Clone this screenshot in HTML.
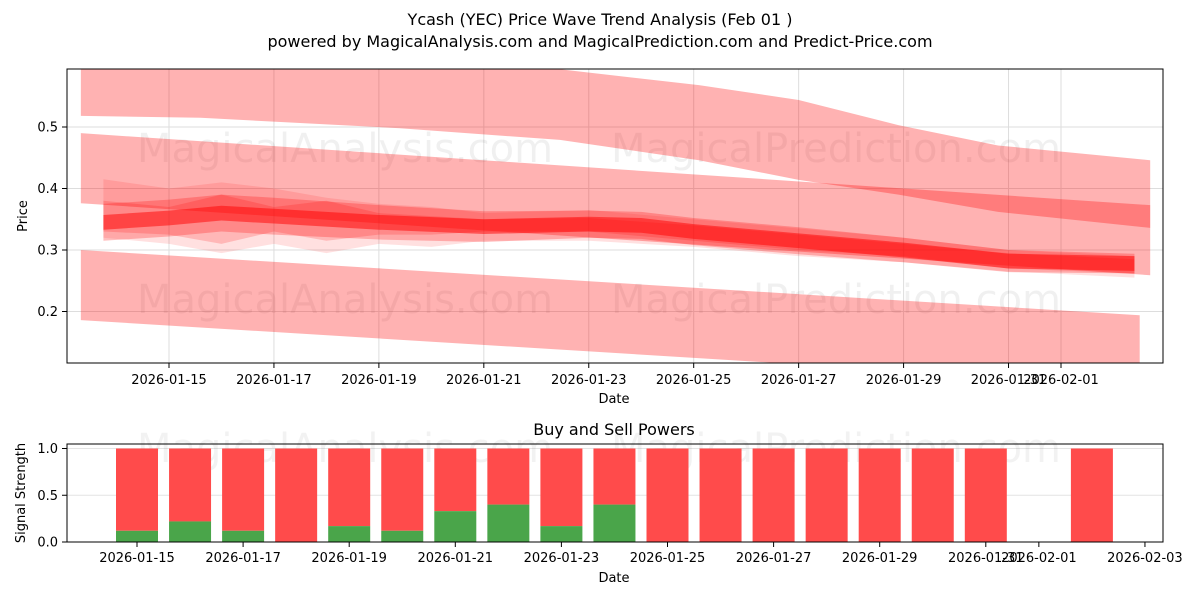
<!DOCTYPE html>
<html><head><meta charset="utf-8"><style>
body{margin:0;background:#fff;}
svg{display:block;font-family:"DejaVu Sans","Liberation Sans",sans-serif;}
</style></head><body>
<svg id="c" width="1200" height="600" xmlns="http://www.w3.org/2000/svg">
<defs>
<clipPath id="clipTop"><rect x="67" y="69" width="1096" height="294"/></clipPath>
</defs>
<text x="600" y="25" text-anchor="middle" font-size="16">Ycash (YEC) Price Wave Trend Analysis (Feb 01 )</text>
<text x="600" y="47" text-anchor="middle" font-size="16">powered by MagicalAnalysis.com and MagicalPrediction.com and Predict-Price.com</text>
<g id="topPanel"></g>
<g id="botPanel"></g>
</svg>
<script>
// ---- data ----
const topTickDays = [0,2,4,6,8,10,12,14,16,17];
const topTickLabels = ["2026-01-15","2026-01-17","2026-01-19","2026-01-21","2026-01-23","2026-01-25","2026-01-27","2026-01-29","2026-01-31","2026-02-01"];
const priceTicks = [0.2,0.3,0.4,0.5];
const bandADays = [-1.68,0.6,4.4,7.45,10.1,12,13.9,15.8,18.7];
const bandALow = [0.518,0.515,0.498,0.479,0.446,0.414,0.39,0.362,0.336];
const bandAHigh = [0.66,0.645,0.62,0.594,0.568,0.544,0.503,0.47,0.446];
const bandBDays = [-1.68,18.7];
const bandBLow = [0.376,0.259];
const bandBHigh = [0.49,0.373];
const bandCDays = [-1.68,18.5];
const bandCLow = [0.186,0.08];
const bandCHigh = [0.30,0.194];
const clusterDays = [-1.25,0,1,2,4,6,8,9,10,12,14,16,18.4];
const clusterMid = [0.345,0.352,0.36,0.355,0.345,0.338,0.342,0.340,0.330,0.315,0.300,0.282,0.278];
const clusterHalf1 = [0.012,0.012,0.012,0.012,0.012,0.012,0.012,0.012,0.012,0.012,0.012,0.012,0.012];
const clusterHalf2 = [0.03,0.03,0.03,0.03,0.028,0.025,0.022,0.022,0.022,0.022,0.02,0.018,0.016];
const wigDays = [-1.25,0,1,2,3,4,5,6,8,10,12,14,16,18.4];
const wigHigh = [0.415,0.40,0.41,0.40,0.385,0.375,0.37,0.36,0.365,0.35,0.335,0.32,0.30,0.29];
const wigLow = [0.32,0.31,0.295,0.31,0.295,0.31,0.305,0.315,0.315,0.305,0.29,0.28,0.265,0.255];
const wig2High = [0.38,0.37,0.39,0.37,0.38,0.36,0.355,0.35,0.352,0.34,0.325,0.31,0.295,0.285];
const wig2Low = [0.33,0.325,0.31,0.33,0.315,0.325,0.325,0.33,0.33,0.315,0.30,0.29,0.27,0.262];
const botTickDays = [0,2,4,6,8,10,12,14,16,17,19];
const botTickLabels = ["2026-01-15","2026-01-17","2026-01-19","2026-01-21","2026-01-23","2026-01-25","2026-01-27","2026-01-29","2026-01-31","2026-02-01","2026-02-03"];
const barDays = [0,1,2,3,4,5,6,7,8,9,10,11,12,13,14,15,16,18];
const buyValues = [0.12,0.22,0.12,0,0.17,0.12,0.33,0.40,0.17,0.40,0,0,0,0,0,0,0,0];
const totalValues = [1,1,1,1,1,1,1,1,1,1,1,1,1,1,1,1,1,1];
const signalTicks = [0,0.5,1.0];

const NS="http://www.w3.org/2000/svg";
function mk(tag,attrs,parent,txt){const e=document.createElementNS(NS,tag);for(const k in attrs)e.setAttribute(k,attrs[k]);if(txt!==undefined)e.textContent=txt;parent.appendChild(e);return e;}
const xT=d=>169+52.47*d;
const yT=p=>127+(0.5-p)*615;
const xB=d=>137+53.05*d;
const yB=v=>542-v*93.5;

const topG=document.getElementById('topPanel');
topTickDays.forEach(d=>{const l=mk('line',{x1:xT(d),x2:xT(d),y1:69,y2:363,stroke:'#ddd','stroke-width':1},topG);});
priceTicks.forEach(p=>{const l=mk('line',{x1:67,x2:1163,y1:yT(p),y2:yT(p),stroke:'#ddd','stroke-width':1},topG);});
const wm1=mk('text',{x:345,y:162,'text-anchor':'middle','font-size':40,fill:'#000','fill-opacity':0.06},topG,'MagicalAnalysis.com');

const wm2=mk('text',{x:836,y:162,'text-anchor':'middle','font-size':40,fill:'#000','fill-opacity':0.06},topG,'MagicalPrediction.com');

const wm3=mk('text',{x:345,y:313,'text-anchor':'middle','font-size':40,fill:'#000','fill-opacity':0.06},topG,'MagicalAnalysis.com');

const wm4=mk('text',{x:836,y:313,'text-anchor':'middle','font-size':40,fill:'#000','fill-opacity':0.06},topG,'MagicalPrediction.com');


const g=mk('g',{'clip-path':'url(#clipTop)'},topG);
function band(days,lo,hi,op,name){
  let pts=days.map((d,i)=>xT(d)+','+yT(hi[i]));
  pts=pts.concat(days.map((d,i)=>xT(d)+','+yT(lo[i])).reverse());
  const p=mk('polygon',{points:pts.join(' '),fill:'#ff0000','fill-opacity':op},g);
  
  
}
band(bandADays,bandALow,bandAHigh,0.3,'wave-band-upper');
band(bandBDays,bandBLow,bandBHigh,0.3,'wave-band-middle');
band(bandCDays,bandCLow,bandCHigh,0.3,'wave-band-lower');
band(wigDays,wigLow,wigHigh,0.12,'wave-band-cluster-wide');
band(wigDays,wig2Low,wig2High,0.18,'wave-band-cluster-zigzag');
band(clusterDays,clusterMid.map((m,i)=>m-clusterHalf2[i]),clusterMid.map((m,i)=>m+clusterHalf2[i]),0.25,'wave-band-cluster');
band(clusterDays,clusterMid.map((m,i)=>m-clusterHalf1[i]),clusterMid.map((m,i)=>m+clusterHalf1[i]),0.5,'wave-band-core');

const fr=mk('rect',{x:67,y:69,width:1096,height:294,fill:'none',stroke:'#000','stroke-width':1},topG);

topTickDays.forEach((d,i)=>{mk('line',{x1:xT(d),x2:xT(d),y1:363,y2:368,stroke:'#000'},topG);
  const t=mk('text',{x:xT(d),y:384,'text-anchor':'middle','font-size':13},topG,topTickLabels[i]);
  });
priceTicks.forEach(p=>{mk('line',{x1:62,x2:67,y1:yT(p),y2:yT(p),stroke:'#000'},topG);
  const t=mk('text',{x:58,y:yT(p)+4.5,'text-anchor':'end','font-size':13},topG,p.toFixed(1));
  });
const xl=mk('text',{x:614,y:403,'text-anchor':'middle','font-size':13},topG,'Date');

const yl=mk('text',{x:27,y:216,'text-anchor':'middle','font-size':13,transform:'rotate(-90 27 216)'},topG,'Price');


const botG=document.getElementById('botPanel');
const bt=mk('text',{x:614,y:435,'text-anchor':'middle','font-size':16},botG,'Buy and Sell Powers');

signalTicks.forEach(v=>{const l=mk('line',{x1:67,x2:1163,y1:yB(v),y2:yB(v),stroke:'#e4e4e4'},botG);});
const wm5=mk('text',{x:345,y:462,'text-anchor':'middle','font-size':40,fill:'#000','fill-opacity':0.05},botG,'MagicalAnalysis.com');

const wm6=mk('text',{x:836,y:462,'text-anchor':'middle','font-size':40,fill:'#000','fill-opacity':0.05},botG,'MagicalPrediction.com');

barDays.forEach((d,i)=>{
  const x=xB(d)-21;
  const r=mk('rect',{x:x,y:yB(totalValues[i]),width:42,height:yB(buyValues[i])-yB(totalValues[i]),fill:'#ff4b4b'},botG);
  
  if(buyValues[i]>0){const b=mk('rect',{x:x,y:yB(buyValues[i]),width:42,height:yB(0)-yB(buyValues[i]),fill:'#4aa54a'},botG);
  }
});
const bf=mk('rect',{x:67,y:444,width:1096,height:98,fill:'none',stroke:'#000'},botG);

botTickDays.forEach((d,i)=>{mk('line',{x1:xB(d),x2:xB(d),y1:542,y2:547,stroke:'#000'},botG);
  const t=mk('text',{x:xB(d),y:562,'text-anchor':'middle','font-size':13},botG,botTickLabels[i]);
  });
signalTicks.forEach(v=>{mk('line',{x1:62,x2:67,y1:yB(v),y2:yB(v),stroke:'#000'},botG);
  const t=mk('text',{x:58,y:yB(v)+4.5,'text-anchor':'end','font-size':13},botG,v.toFixed(1));
  });
const bxl=mk('text',{x:614,y:582,'text-anchor':'middle','font-size':13},botG,'Date');

const byl=mk('text',{x:25,y:493,'text-anchor':'middle','font-size':13,transform:'rotate(-90 25 493)'},botG,'Signal Strength');

</script>
</body></html>
